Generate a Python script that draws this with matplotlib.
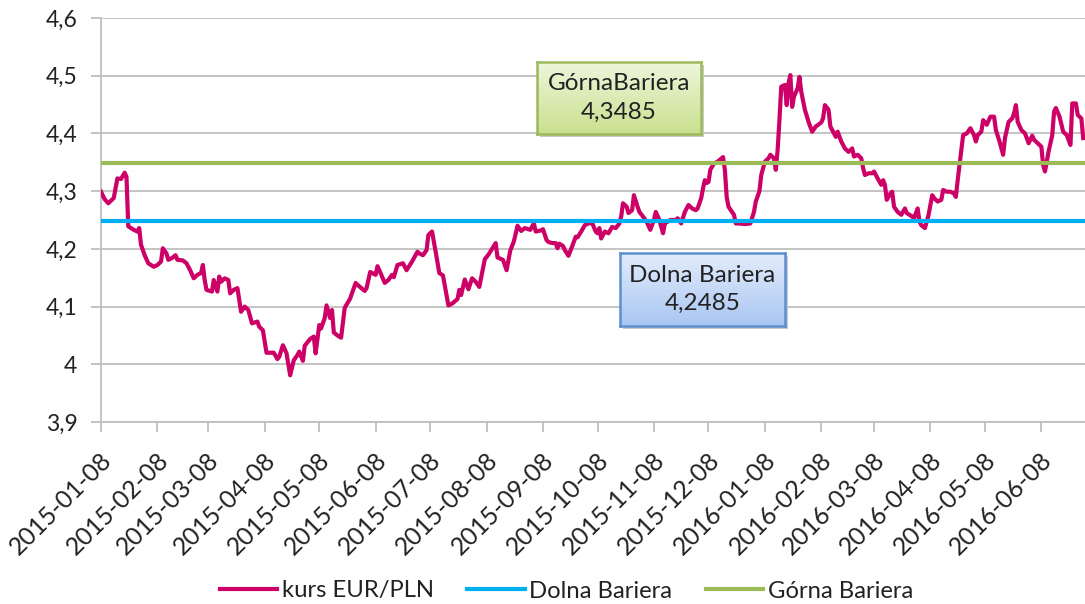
import numpy as np
import pandas as pd
import matplotlib
matplotlib.use("Agg")
import matplotlib.pyplot as plt
import matplotlib.transforms as mtransforms
from matplotlib.ticker import FuncFormatter, FixedLocator
from matplotlib.lines import Line2D

# ---- data ----
start_date = "2015-01-08"
# days since 2015-01-08
days = [0, 2, 4, 7, 9, 11, 13, 14, 15, 18, 20, 21, 22, 24, 26, 29, 31, 33, 34, 36,
        37, 39, 41, 42, 45, 47, 49, 51, 53, 55, 56, 57, 58, 61, 62, 64, 65, 66, 68, 70,
        71, 73, 75, 77, 79, 81, 83, 86, 87, 89, 91, 95, 97, 98, 100, 102, 104, 106, 108, 109,
        111, 112, 115, 117, 118, 120, 121, 123, 124, 126, 127, 128, 130, 132, 134, 137, 140, 142, 145, 146,
        148, 151, 152, 154, 156, 158, 160, 161, 163, 166, 168, 171, 174, 175, 177, 179, 180, 182, 184, 186,
        188, 191, 193, 196, 197, 198, 200, 202, 204, 206, 208, 211, 213, 215, 217, 218, 221, 222, 223, 225,
        227, 229, 231, 233, 236, 238, 239, 242, 243, 245, 246, 248, 250, 251, 252, 254, 255, 257, 259, 261,
        262, 264, 266, 268, 270, 272, 273, 274, 275, 277, 279, 281, 283, 285, 286, 287, 289, 290, 292, 293,
        295, 296, 298, 300, 302, 304, 305, 307, 309, 310, 313, 316, 317, 319, 321, 323, 325, 327, 328, 330,
        331, 332, 333, 334, 335, 337, 339, 342, 343, 344, 345, 348, 349, 351, 354, 357, 359, 360, 362, 363,
        365, 367, 368, 370, 371, 372, 373, 374, 376, 377, 378, 379, 380, 381, 383, 384, 385, 387, 389, 391,
        393, 396, 397, 398, 400, 401, 403, 404, 405, 407, 409, 411, 413, 414, 416, 418, 419, 420, 422, 424,
        425, 427, 429, 430, 431, 432, 434, 435, 436, 438, 440, 442, 443, 446, 447, 449, 450, 451, 453, 455,
        457, 458, 460, 462, 463, 465, 467, 469, 470, 471, 472, 473, 474, 476, 478, 480, 481, 482, 484, 485,
        487, 489, 491, 492, 494, 496, 497, 499, 501, 502, 503, 504, 506, 508, 509, 510, 512, 513, 515, 517,
        518, 519, 520, 521, 523, 524, 525, 527, 529, 531, 533, 534, 536, 537, 539, 540]
kurs = [4.299, 4.286, 4.279, 4.288, 4.322, 4.321, 4.332, 4.325, 4.239, 4.233, 4.230, 4.236, 4.207, 4.189, 4.175, 4.169, 4.172, 4.178, 4.201, 4.192,
        4.181, 4.184, 4.189, 4.181, 4.180, 4.175, 4.163, 4.149, 4.155, 4.158, 4.172, 4.146, 4.129, 4.126, 4.146, 4.126, 4.152, 4.143, 4.149, 4.146,
        4.123, 4.129, 4.132, 4.091, 4.100, 4.094, 4.071, 4.074, 4.065, 4.059, 4.020, 4.020, 4.009, 4.013, 4.033, 4.019, 3.981, 4.007, 4.016, 4.022,
        4.006, 4.032, 4.044, 4.048, 4.019, 4.068, 4.062, 4.080, 4.102, 4.080, 4.094, 4.055, 4.050, 4.046, 4.098, 4.114, 4.141, 4.135, 4.127, 4.132,
        4.160, 4.155, 4.170, 4.156, 4.141, 4.146, 4.155, 4.151, 4.172, 4.175, 4.163, 4.178, 4.195, 4.192, 4.189, 4.198, 4.224, 4.230, 4.195, 4.158,
        4.154, 4.102, 4.105, 4.113, 4.129, 4.120, 4.147, 4.130, 4.149, 4.143, 4.134, 4.182, 4.190, 4.200, 4.210, 4.185, 4.181, 4.172, 4.163, 4.197,
        4.213, 4.240, 4.231, 4.236, 4.233, 4.244, 4.230, 4.232, 4.234, 4.215, 4.212, 4.210, 4.210, 4.201, 4.209, 4.205, 4.198, 4.188, 4.204, 4.221,
        4.220, 4.230, 4.241, 4.244, 4.245, 4.230, 4.227, 4.236, 4.218, 4.230, 4.227, 4.238, 4.236, 4.244, 4.256, 4.279, 4.273, 4.262, 4.267, 4.293,
        4.273, 4.264, 4.256, 4.247, 4.233, 4.250, 4.264, 4.250, 4.227, 4.244, 4.250, 4.250, 4.253, 4.244, 4.264, 4.276, 4.270, 4.267, 4.270, 4.288,
        4.305, 4.319, 4.314, 4.316, 4.337, 4.348, 4.351, 4.359, 4.337, 4.290, 4.273, 4.259, 4.244, 4.244, 4.243, 4.244, 4.264, 4.282, 4.300, 4.328,
        4.351, 4.357, 4.363, 4.357, 4.337, 4.371, 4.423, 4.481, 4.484, 4.449, 4.487, 4.501, 4.446, 4.464, 4.478, 4.498, 4.472, 4.441, 4.420, 4.403,
        4.412, 4.419, 4.426, 4.449, 4.441, 4.412, 4.400, 4.394, 4.403, 4.386, 4.374, 4.368, 4.374, 4.360, 4.363, 4.357, 4.340, 4.328, 4.331, 4.331,
        4.334, 4.322, 4.311, 4.319, 4.311, 4.285, 4.296, 4.299, 4.273, 4.264, 4.259, 4.270, 4.262, 4.256, 4.253, 4.270, 4.247, 4.241, 4.236, 4.259,
        4.293, 4.288, 4.282, 4.285, 4.302, 4.299, 4.299, 4.296, 4.290, 4.319, 4.345, 4.371, 4.397, 4.400, 4.409, 4.397, 4.386, 4.397, 4.403, 4.423,
        4.415, 4.429, 4.429, 4.406, 4.386, 4.363, 4.392, 4.420, 4.426, 4.435, 4.449, 4.420, 4.406, 4.400, 4.392, 4.383, 4.396, 4.389, 4.383, 4.377,
        4.345, 4.334, 4.351, 4.369, 4.397, 4.438, 4.444, 4.429, 4.403, 4.397, 4.380, 4.452, 4.452, 4.432, 4.426, 4.392]
dolna_bariera = 4.2485
gorna_bariera = 4.3485
tick_dates = ["2015-01-08", "2015-02-08", "2015-03-08", "2015-04-08", "2015-05-08", "2015-06-08",
              "2015-07-08", "2015-08-08", "2015-09-08", "2015-10-08", "2015-11-08", "2015-12-08",
              "2016-01-08", "2016-02-08", "2016-03-08", "2016-04-08", "2016-05-08", "2016-06-08"]
y_ticks = [3.9, 4.0, 4.1, 4.2, 4.3, 4.4, 4.5, 4.6]
series_labels = ["kurs EUR/PLN", "Dolna Bariera", "Górna Bariera"]
box_gorna = ["GórnaBariera", "4,3485"]
box_dolna = ["Dolna Bariera", "4,2485"]

# ---- styling ----
FONT = ["Lato", "DejaVu Sans"]
plt.rcParams["font.family"] = FONT
C_KURS = "#cc0066"
C_DOLNA = "#00b0f0"
C_GORNA = "#9bbb59"
C_GRID = "#bfbfbf"
FS = 16.5
FS_X = 17.8
FS_BOX = 17.5
FS_LEG = 17.2

fig = plt.figure(figsize=(10.85, 6.04), dpi=100)
ax = fig.add_axes([101 / 1085, 1 - 422 / 604, 1 - 101 / 1085, (422 - 18) / 604])

t0 = pd.Timestamp(start_date)
x = [t0 + pd.Timedelta(days=d) for d in days]

ax.plot(x, kurs, color=C_KURS, lw=3.0, solid_joinstyle="round", zorder=3)
ax.axhline(dolna_bariera, color=C_DOLNA, lw=3.0, zorder=4)
ax.axhline(gorna_bariera, color=C_GORNA, lw=3.0, zorder=4)

ax.set_xlim(t0, t0 + pd.Timedelta(days=541))
ax.set_ylim(y_ticks[0], y_ticks[-1])
ax.yaxis.set_major_locator(FixedLocator(y_ticks))


def yfmt(v, pos):
    if abs(v - round(v)) < 1e-9:
        return str(int(round(v)))
    return f"{v:.1f}".replace(".", ",")


ax.yaxis.set_major_formatter(FuncFormatter(yfmt))
tick_ts = [pd.Timestamp(d) for d in tick_dates]
ax.set_xticks(tick_ts)
ax.set_xticklabels([])
# rotated date labels, offset from the tick
lab_trans = ax.get_xaxis_transform() + mtransforms.ScaledTranslation(7 / 100, -34 / 100, fig.dpi_scale_trans)
for t, s in zip(tick_ts, tick_dates):
    ax.text(t, 0, s, transform=lab_trans, rotation=45, ha="right", va="center",
            rotation_mode="anchor", fontsize=FS_X, color="#222222", clip_on=False)

ax.grid(axis="y", color=C_GRID, lw=1.3, zorder=0)
ax.set_axisbelow(True)
for s in ["top", "right"]:
    ax.spines[s].set_visible(False)
for s in ["left", "bottom"]:
    ax.spines[s].set_color(C_GRID)
    ax.spines[s].set_linewidth(1.3)
ax.tick_params(axis="both", colors=C_GRID, length=7, width=1.3, labelcolor="#222222")
ax.tick_params(axis="y", pad=10, labelsize=FS)


def gradient_box(rect, top_col, bot_col, edge, lines):
    # shadow
    sx = fig.add_axes([rect[0] + 3 / 1085, rect[1] - 3 / 604, rect[2], rect[3]])
    sx.set_facecolor("#c8c8c8")
    sx.set_xticks([]); sx.set_yticks([])
    for s in sx.spines.values():
        s.set_visible(False)
    sx.set_zorder(9)
    bx = fig.add_axes(rect)
    tc = np.array(matplotlib.colors.to_rgb(top_col))
    bc = np.array(matplotlib.colors.to_rgb(bot_col))
    g = np.linspace(0, 1, 100)[:, None]
    img = tc[None, None, :] * (1 - g[:, :, None]) + bc[None, None, :] * g[:, :, None]
    bx.imshow(img, aspect="auto", extent=[0, 1, 0, 1], origin="upper")
    bx.set_xlim(0, 1); bx.set_ylim(0, 1)
    bx.set_xticks([]); bx.set_yticks([])
    for s in bx.spines.values():
        s.set_color(edge)
        s.set_linewidth(1.8)
    bx.text(0.5, 0.5, "\n".join(lines), ha="center", va="center", fontsize=FS_BOX,
            color="#222222", linespacing=1.45, transform=bx.transAxes)
    bx.set_zorder(10)


gradient_box([537 / 1085, 1 - 134 / 604, 164 / 1085, 72 / 604],
             "#eef6dc", "#c9e08e", "#9bbb59", box_gorna)
gradient_box([620 / 1085, 1 - 326 / 604, 165 / 1085, 73 / 604],
             "#e3ecfb", "#a9c6f2", "#5b8fd0", box_dolna)

handles = [Line2D([], [], color=C_KURS, lw=3.0),
           Line2D([], [], color=C_DOLNA, lw=3.0),
           Line2D([], [], color=C_GORNA, lw=3.0)]
fig.legend(handles, series_labels, loc="center", bbox_to_anchor=(0.522, 1 - 591 / 604),
           ncol=3, frameon=False, fontsize=FS_LEG, handlelength=2.4, handletextpad=0.2,
           columnspacing=1.4, labelcolor="#222222")

fig.savefig("out.png", dpi=100)
